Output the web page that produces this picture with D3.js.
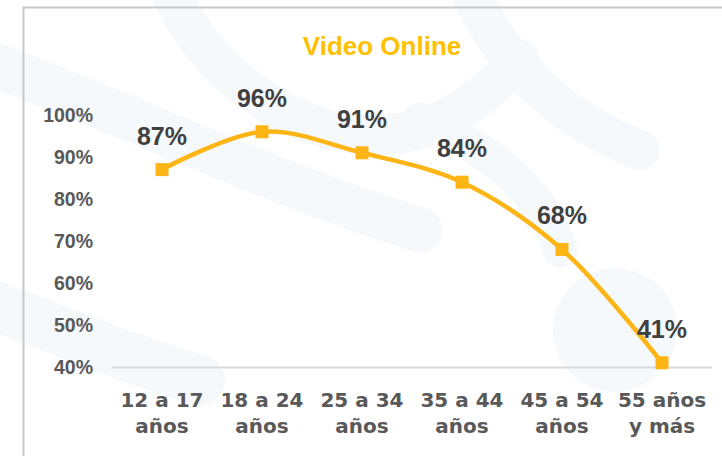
<!DOCTYPE html>
<html>
<head>
<meta charset="utf-8">
<script src="https://cdn.jsdelivr.net/npm/d3@7"></script>
<style>
  body { margin: 0; background: #fff; }
  svg { display: block; }
</style>
</head>
<body>
<div id="chart"></div>
<script>
// data
var categories = ["12 a 17 años", "18 a 24 años", "25 a 34 años", "35 a 44 años", "45 a 54 años", "55 años y más"];
var categoryLines = [["12 a 17", "años"], ["18 a 24", "años"], ["25 a 34", "años"], ["35 a 44", "años"], ["45 a 54", "años"], ["55 años", "y más"]];
var values = [87, 96, 91, 84, 68, 41];
var yTicks = [40, 50, 60, 70, 80, 90, 100];
var title = "Video Online";

var svgWidth = 722;
var svgHeight = 456;

var margin = { top: 115, right: 10, bottom: 89, left: 112 };
var chartWidth = svgWidth - margin.left - margin.right;
var chartHeight = svgHeight - margin.top - margin.bottom;

var svg = d3.select("#chart")
            .append("svg")
            .attr("width", svgWidth)
            .attr("height", svgHeight);

// faint watermark shapes in the background
var wm = svg.append("g")
            .attr("fill", "none")
            .attr("stroke", "#f6f9fc")
            .attr("stroke-linecap", "round");
wm.append("path").attr("stroke-width", 45).attr("d", "M-20,60 C120,110 260,180 420,230");
wm.append("path").attr("stroke-width", 40).attr("d", "M170,-10 C200,60 260,110 330,130 C420,150 470,110 520,60");
wm.append("path").attr("stroke-width", 40).attr("d", "M470,-10 C500,60 560,120 640,150");
wm.append("path").attr("stroke-width", 50).attr("d", "M-20,300 C60,330 130,360 200,380");
wm.append("path").attr("stroke-width", 35).attr("d", "M560,250 C540,180 470,140 420,120");
wm.append("circle").attr("cx", 615).attr("cy", 330).attr("r", 62).attr("fill", "#f6f9fc").attr("stroke", "none");

// chart border (runs off the right and bottom)
svg.append("path")
   .attr("d", "M23.5,460 V7.5 H730")
   .attr("fill", "none")
   .attr("stroke", "#c8c8c8")
   .attr("stroke-width", 2);

var chartGroup = svg.append("g")
                    .attr("transform", `translate(${margin.left}, ${margin.top})`);

var xScale = d3.scalePoint()
               .domain(categories)
               .range([0, chartWidth])
               .padding(0.5);

var yScale = d3.scaleLinear()
               .domain([40, 100])
               .range([chartHeight, 0]);

// title
svg.append("text")
   .attr("x", 382)
   .attr("y", 55)
   .attr("text-anchor", "middle")
   .attr("font-family", "'Liberation Sans', Arial, sans-serif")
   .attr("font-weight", "bold")
   .attr("font-size", 26)
   .attr("fill", "#ffc000")
   .text(title);

// y axis labels, no line
var yAxis = d3.axisLeft(yScale)
              .tickValues(yTicks)
              .tickSize(0)
              .tickPadding(19)
              .tickFormat(d => d + "%");

var yAxisGroup = chartGroup.append("g").call(yAxis);
yAxisGroup.select(".domain").remove();
yAxisGroup.selectAll("text")
          .attr("font-family", "'Liberation Sans', Arial, sans-serif")
          .attr("font-weight", "bold")
          .attr("font-size", 19.5)
          .attr("fill", "#595959");

// x axis line
chartGroup.append("line")
          .attr("x1", 0)
          .attr("x2", chartWidth)
          .attr("y1", chartHeight + 0.5)
          .attr("y2", chartHeight + 0.5)
          .attr("stroke", "#d9d9d9")
          .attr("stroke-width", 2);

// category labels, two lines each
var catLabels = chartGroup.selectAll(".cat")
                          .data(categories)
                          .enter()
                          .append("text")
                          .classed("cat", true)
                          .attr("x", d => xScale(d))
                          .attr("y", chartHeight + 40)
                          .attr("text-anchor", "middle")
                          .attr("font-family", "'DejaVu Sans', sans-serif")
                          .attr("font-weight", "bold")
                          .attr("font-size", 20)
                          .attr("fill", "#595959");

catLabels.selectAll("tspan")
         .data((d, i) => categoryLines[i])
         .enter()
         .append("tspan")
         .attr("x", function () { return d3.select(this.parentNode).attr("x"); })
         .attr("dy", (d, i) => i === 0 ? 0 : 26)
         .text(d => d);

// line
var line = d3.line()
             .x((d, i) => xScale(categories[i]))
             .y(d => yScale(d))
             .curve(d3.curveCatmullRom.alpha(0.5));

chartGroup.append("path")
          .datum(values)
          .attr("d", line)
          .attr("fill", "none")
          .attr("stroke", "#fdb515")
          .attr("stroke-width", 4.5);

// square markers
chartGroup.selectAll(".marker")
          .data(values)
          .enter()
          .append("rect")
          .classed("marker", true)
          .attr("x", (d, i) => xScale(categories[i]) - 6.5)
          .attr("y", d => yScale(d) - 6.5)
          .attr("width", 13)
          .attr("height", 13)
          .attr("fill", "#fdb515");

// data labels
chartGroup.selectAll(".value")
          .data(values)
          .enter()
          .append("text")
          .classed("value", true)
          .attr("x", (d, i) => xScale(categories[i]))
          .attr("y", d => yScale(d) - 25)
          .attr("text-anchor", "middle")
          .attr("font-family", "'Liberation Sans', Arial, sans-serif")
          .attr("font-weight", "bold")
          .attr("font-size", 25)
          .attr("fill", "#404040")
          .text(d => d + "%");
</script>
</body>
</html>
